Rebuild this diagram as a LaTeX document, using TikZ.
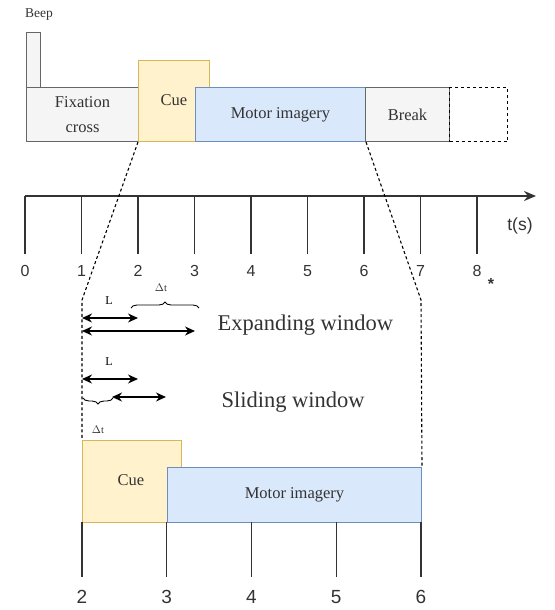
\documentclass[tikz,border=0pt]{standalone}
\usepackage{fontspec}
\setmainfont{Liberation Serif}
\newfontfamily\axisfont{Liberation Sans}
\usetikzlibrary{arrows.meta,decorations.pathreplacing}

\definecolor{cuefill}{HTML}{FFF2CC}
\definecolor{cuedraw}{HTML}{D6B656}
\definecolor{mifill}{HTML}{DAE8FC}
\definecolor{midraw}{HTML}{6C8EBF}
\definecolor{grayfill}{HTML}{F5F5F5}
\definecolor{graydraw}{HTML}{666666}
\definecolor{inkgray}{HTML}{333333}

\tikzset{
  phase/.style={draw, line width=1pt, anchor=north west, inner sep=0pt,
    align=center, font=\fontsize{16.5}{21}\selectfont, text=inkgray},
  grayphase/.style={phase, fill=grayfill, draw=graydraw},
  cuephase/.style={phase, fill=cuefill, draw=cuedraw},
  miphase/.style={phase, fill=mifill, draw=midraw},
  axisline/.style={line width=2pt, draw=inkgray},
  tickline/.style={line width=1.3pt, draw=inkgray},
  ticklabel/.style={font=\axisfont\fontsize{16}{16}\selectfont, text=inkgray},
  zoomline/.style={line width=1.1pt, dash pattern=on 3pt off 2.5pt},
  winarrow/.style={line width=1.3pt, {Stealth[length=10pt,width=9pt]}-{Stealth[length=10pt,width=9pt]}},
  bracedeco/.style={decorate, decoration={brace, amplitude=6pt}, line width=0.9pt},
  smalllabel/.style={font=\fontsize{12}{12}\selectfont},
  winlabel/.style={font=\fontsize{22.5}{22.5}\selectfont, text=inkgray, anchor=west}
}

\begin{document}
\begin{tikzpicture}[x=1pt, y=-1pt]
\useasboundingbox (0,0) rectangle (554,610);

% ---- trial structure ----
\node[font=\fontsize{13.5}{13.5}\selectfont, text=inkgray] (beeplabel) at (39,15) {Beep};
\node[grayphase, minimum width=14pt, minimum height=55pt] (beep) at (26,32) {};
\node[grayphase, minimum width=112pt, minimum height=54pt] (fix) at (26,87) {Fixation\\[4pt]cross};
\node[cuephase, minimum width=71pt, minimum height=81pt] (cue) at (138,60) {};
\node[text=inkgray, font=\fontsize{16.5}{16.5}\selectfont] (cuetext) at (174,100) {Cue};
\node[miphase, minimum width=170pt, minimum height=54pt] (mi) at (195,87) {Motor imagery};
\node[grayphase, minimum width=84pt, minimum height=54pt] (brk) at (365,87) {Break};
\node[phase, dashed, draw=black, minimum width=58pt, minimum height=54pt] (next) at (449,87) {};

% ---- time axis ----
\coordinate (axstart) at (25,196);
\coordinate (axend) at (536,196);
\draw[axisline, -{Stealth[length=12pt,width=10pt]}] (axstart) -- (axend);
\foreach \i in {0,...,8} {
  \coordinate (t\i) at ({25+56.5*\i},196);
  \draw[tickline] (t\i) -- ++(0,58);
  \node[ticklabel] (tl\i) at ({25+56.5*\i},271) {\i};
}
\node[ticklabel, font=\axisfont\fontsize{17.5}{17.5}\selectfont] (tunit) at (520,226) {t(s)};
\node[font=\axisfont\fontsize{16}{16}\selectfont\bfseries, text=inkgray] (star) at (491,284) {*};

% ---- zoomed segment ----
\node[cuephase, minimum width=99pt, minimum height=82pt] (lcue) at (82,440) {};
\node[text=inkgray, font=\fontsize{16.5}{16.5}\selectfont] (lcuetext) at (131,480) {Cue};
\node[miphase, minimum width=254pt, minimum height=55pt] (lmi) at (167,467) {Motor imagery};

\coordinate (lbend) at (82,300);
\coordinate (rbend) at (421,300);
\draw[zoomline] (cue.south west) -- (lbend) -- (lcue.north west);
\draw[zoomline] (mi.south east) -- (rbend) -- (lmi.north east);

\foreach \i/\x in {2/82,3/166.75,4/251.5,5/336.25,6/421} {
  \coordinate (b\i) at (\x,522);
  \draw[tickline] (b\i) -- ++(0,55);
  \node[ticklabel, font=\axisfont\fontsize{19}{19}\selectfont] (bl\i) at (\x,597) {\i};
}

% ---- expanding window ----
\coordinate (ea1) at (82,318);  \coordinate (ea2) at (138,318);
\coordinate (eb1) at (82,331);  \coordinate (eb2) at (195,331);
\draw[winarrow] (ea1) -- (ea2);
\draw[winarrow] (eb1) -- (eb2);
\node[smalllabel] (eL) at (109,301) {L};
\coordinate (ebr1) at (131,308); \coordinate (ebr2) at (199,308);
\draw[bracedeco] (ebr1) -- (ebr2);
\node[font=\fontsize{10.5}{10.5}\selectfont, text=inkgray] (edt) at (161,288) {$\Delta$t};
\node[winlabel] (elabel) at (214,325) {Expanding window};

% ---- sliding window ----
\coordinate (sa1) at (82,379);  \coordinate (sa2) at (138,379);
\coordinate (sb1) at (112,397); \coordinate (sb2) at (166,397);
\draw[winarrow] (sa1) -- (sa2);
\draw[winarrow] (sb1) -- (sb2);
\node[smalllabel] (sL) at (109,362) {L};
\coordinate (sbr1) at (83,398); \coordinate (sbr2) at (113,398);
\draw[bracedeco] (sbr2) -- (sbr1);
\node[font=\fontsize{10.5}{10.5}\selectfont, text=inkgray] (sdt) at (98,430) {$\Delta$t};
\node[winlabel] (slabel) at (218,402) {Sliding window};
\end{tikzpicture}
\end{document}
